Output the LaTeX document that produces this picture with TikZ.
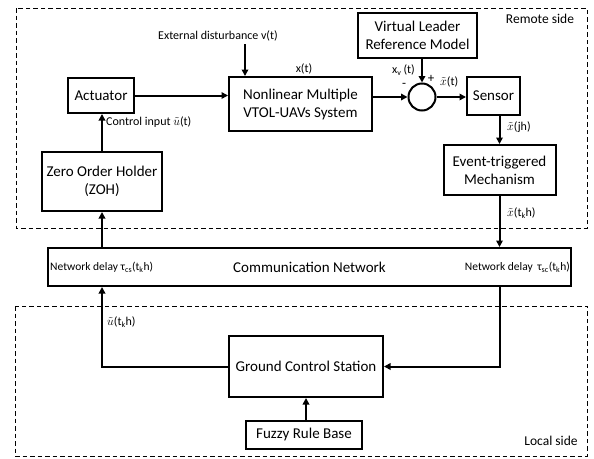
\documentclass[tikz,border=0pt]{standalone}
\usepackage{fontspec}
\setmainfont{Carlito}
\usetikzlibrary{arrows.meta,calc}
\begin{document}
\begin{tikzpicture}[x=1pt,y=-1pt,
  blk/.style={draw,line width=2pt,align=center,font=\fontsize{15}{18}\selectfont,inner sep=0pt},
  lbl/.style={font=\fontsize{12}{14}\selectfont,inner sep=1pt},
  sml/.style={font=\fontsize{11.5}{13}\selectfont,inner sep=1pt},
  side/.style={font=\fontsize{13.5}{16}\selectfont,inner sep=1pt},
  zone/.style={draw,line width=0.8pt,dash pattern=on 4.5pt off 3pt},
  arr/.style={line width=2pt,-{Triangle[length=6.5pt,width=6.5pt]}},
  ln/.style={line width=2pt}]
\useasboundingbox (0,0) rectangle (594,458);
% zones
\draw[zone] (16,8) rectangle (587,228);
\draw[zone] (15,306) rectangle (587,456);
\node[side] (remote) at (540,19) {Remote side};
\node[side] (local) at (551,441) {Local side};
% blocks
\node[blk,minimum width=66pt,minimum height=35pt] (act) at (101,95.5) {Actuator};
\node[blk,minimum width=120pt,minimum height=59pt] (zoh) at (102,181.5) {Zero Order Holder\\(ZOH)};
\node[blk,minimum width=143pt,minimum height=54pt] (nl) at (300.5,104) {Nonlinear Multiple\\VTOL-UAVs System};
\node[draw,circle,line width=2pt,minimum size=27pt,inner sep=0pt] (sum) at (422,97) {};
\node[blk,minimum width=119pt,minimum height=45pt] (vl) at (417.5,35.5) {Virtual Leader\\Reference Model};
\node[blk,minimum width=53pt,minimum height=38pt] (sen) at (493.5,96) {Sensor};
\node[blk,minimum width=112pt,minimum height=50pt] (et) at (499.5,170) {Event-triggered\\Mechanism};
\node[blk,minimum width=523pt,minimum height=38pt] (comm) at (309.5,267) {Communication Network};
\node[blk,minimum width=154pt,minimum height=61pt] (gcs) at (306,366.5) {Ground Control Station};
\node[blk,minimum width=116pt,minimum height=28pt] (fz) at (304,434.5) {Fuzzy Rule Base};
% labels
\node[lbl] (dist) at (218,36) {External disturbance v(t)};
\coordinate (dtop) at (245,44);
\node[lbl] (xt) at (304,69) {x(t)};
\node[lbl,anchor=east] (xv) at (416,70) {x\textsubscript{v}\,(t)};
\node[lbl,font=\fontsize{13}{15}\selectfont] (plus) at (431,79) {+};
\node[lbl,font=\fontsize{13}{15}\selectfont] (minus) at (404,85) {-};
\node[lbl,anchor=west] (xtil) at (439,82) {$\tilde{x}$(t)};
\node[lbl,anchor=west] (xjh) at (506,127) {$\tilde{x}$(jh)};
\node[lbl,anchor=west] (xtk) at (506,213) {$\tilde{x}$(t\textsubscript{k}h)};
\node[lbl,anchor=west] (uin) at (105,122) {Control input $\tilde{u}$(t)};
\node[sml,anchor=west] (dcs) at (49,267) {Network delay τ\textsubscript{cs}(t\textsubscript{k}h)};
\node[sml,anchor=east] (dsc) at (571,267) {Network delay\, τ\textsubscript{sc}(t\textsubscript{k}h)};
\node[lbl,anchor=west] (utk) at (106,322) {$\tilde{u}$(t\textsubscript{k}h)};
% connectors
\draw[arr] (act.east) -- (act.east -| nl.west);
\draw[arr] (dtop) -- (dtop |- nl.north);
\draw[arr] (nl.east |- sum) -- (sum.west);
\draw[arr] (vl.south -| sum) -- (sum.north);
\draw[arr] (sum.east) -- (sum -| sen.west);
\draw[arr] (sen.south -| et) -- (et.north);
\draw[arr] (et.south) -- (et.south |- comm.north);
\draw[arr] (zoh.north) -- (zoh.north |- act.south);
\draw[arr] (comm.north -| zoh) -- (zoh.south);
\draw[arr] (gcs.west) -| (comm.south -| zoh);
\draw[arr] (comm.south -| et) |- (gcs.east);
\draw[arr] (fz.north -| gcs) -- (gcs.south);
\end{tikzpicture}
\end{document}
